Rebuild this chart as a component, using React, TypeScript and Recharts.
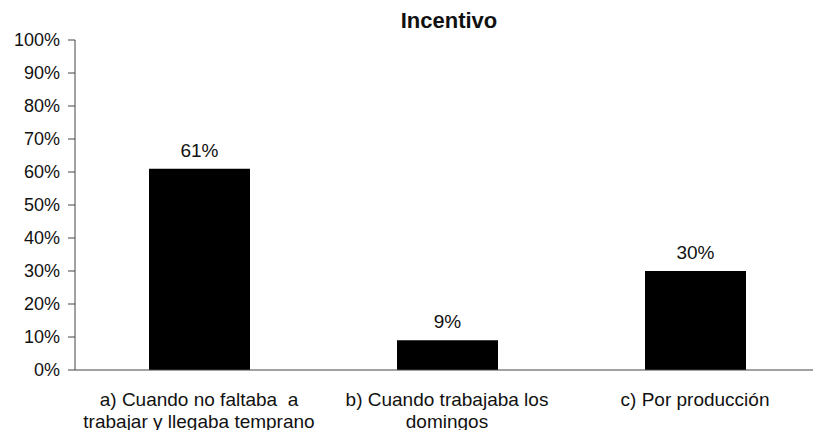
import { BarChart, Bar, XAxis, YAxis, LabelList } from 'recharts'

const categories = [
  'a) Cuando no faltaba  a\ntrabajar y llegaba temprano',
  'b) Cuando trabajaba los\ndomingos',
  'c) Por producción',
]
const percentages = [61, 9, 30]
const yTicks = [0, 10, 20, 30, 40, 50, 60, 70, 80, 90, 100]
const boundaryTicks = [0, 1, 2, 3]

const data = categories.map((name, i) => ({ name, value: percentages[i] }))

const FONT = '"Liberation Sans", Arial, sans-serif'

function CategoryTick({ x, y, payload }: any) {
  const lines = String(payload.value).split('\n')
  return (
    <text x={x} y={y} textAnchor="middle" fontFamily={FONT} fontSize={19} fill="#111">
      {lines.map((line, i) => (
        <tspan key={i} x={x} y={y + 35 + i * 22} style={{ whiteSpace: 'pre' }}>
          {line}
        </tspan>
      ))}
    </text>
  )
}

export default function App() {
  return (
    <div
      style={{
        position: 'absolute',
        left: 0,
        top: 0,
        width: 813,
        height: 430,
        overflow: 'hidden',
        background: '#fff',
      }}
    >
      <div
        style={{
          position: 'absolute',
          left: 349,
          top: 9,
          width: 200,
          textAlign: 'center',
          fontFamily: FONT,
          fontWeight: 'bold',
          fontSize: 22,
          lineHeight: '24px',
          color: '#111',
        }}
      >
        Incentivo
      </div>
      <BarChart
        width={830}
        height={430}
        data={data}
        margin={{ top: 40, right: 11, left: 0, bottom: 0 }}
      >
        <XAxis
          xAxisId="bounds"
          type="number"
          domain={[0, 3]}
          ticks={boundaryTicks}
          allowDataOverflow
          height={1}
          tick={false}
          tickSize={6}
          axisLine={{ stroke: '#444' }}
          tickLine={{ stroke: '#444' }}
        />
        <XAxis
          xAxisId="cat"
          dataKey="name"
          height={59}
          axisLine={false}
          tickLine={false}
          tickSize={0}
          tickMargin={0}
          interval={0}
          tick={<CategoryTick />}
        />
        <YAxis
          domain={[0, 100]}
          ticks={yTicks}
          width={75}
          tickSize={7}
          tickMargin={8}
          tickFormatter={(v: number) => `${v}%`}
          tick={{ fontFamily: FONT, fontSize: 18, fill: '#111' }}
          axisLine={{ stroke: '#444' }}
          tickLine={{ stroke: '#444' }}
        />
        <Bar xAxisId="cat" dataKey="value" fill="#000" barSize={101} isAnimationActive={false}>
          <LabelList
            dataKey="value"
            position="top"
            offset={12}
            formatter={(v: any) => `${v}%`}
            style={{ fontFamily: FONT, fontSize: 19, fill: '#111' }}
          />
        </Bar>
      </BarChart>
    </div>
  )
}
